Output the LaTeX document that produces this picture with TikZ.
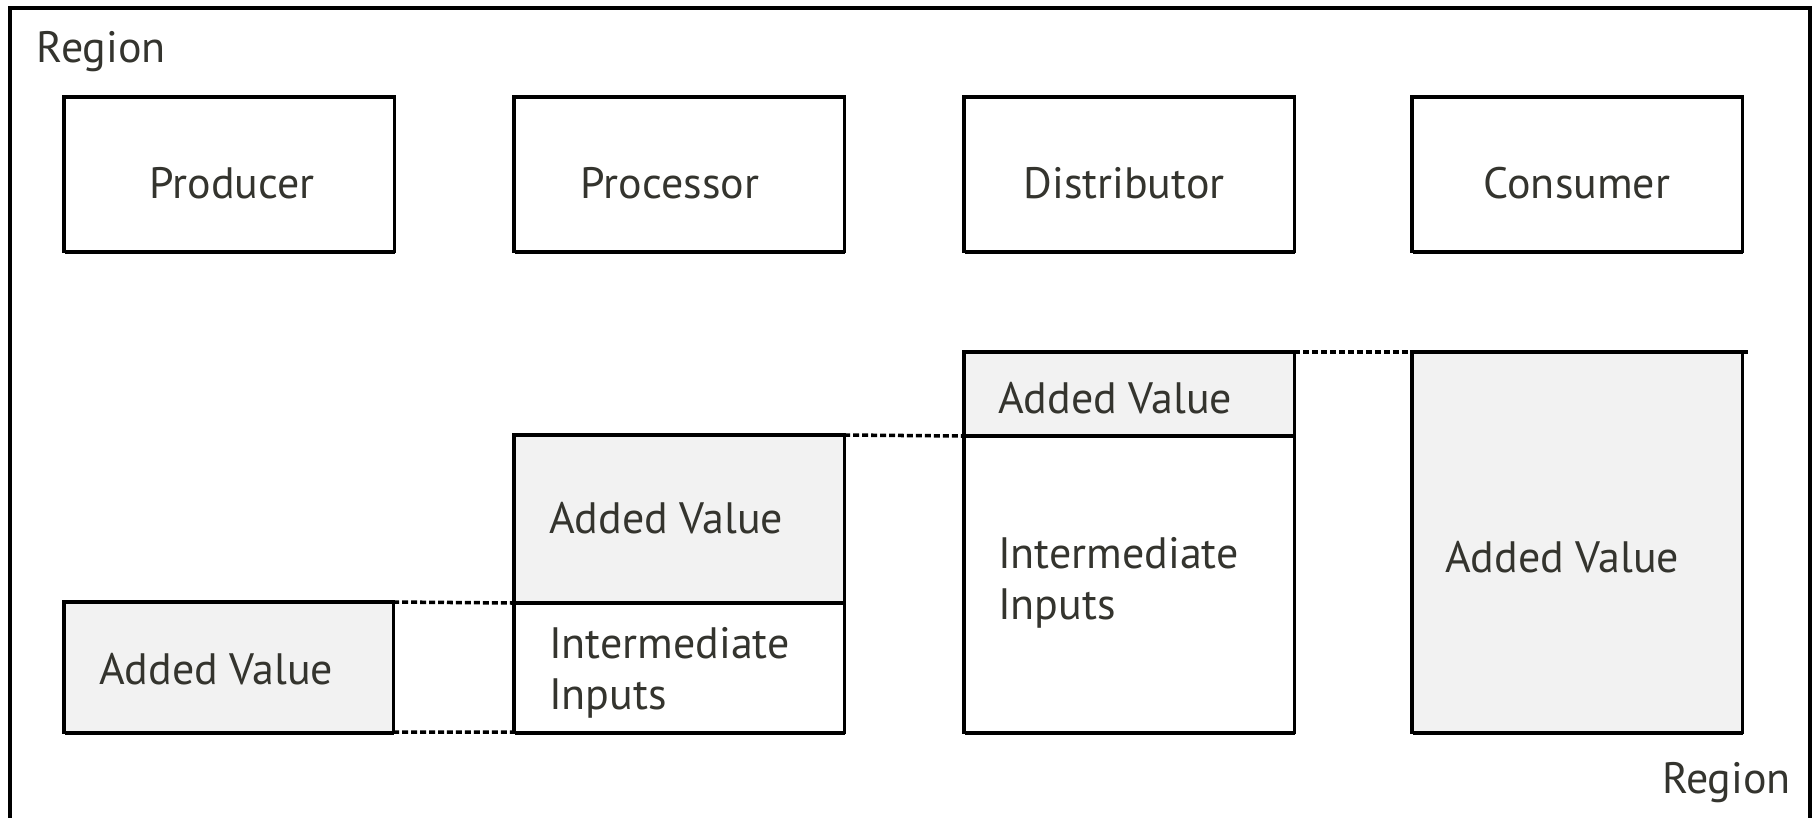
\documentclass[tikz,border=0pt]{standalone}
\usepackage{fontspec}
\setmainfont{PT Sans}
\usetikzlibrary{backgrounds,shadows,calc}
\definecolor{ink}{RGB}{52,52,46}
\definecolor{panel}{RGB}{242,242,242}
\begin{document}
\begin{tikzpicture}[x=0.01cm, y=-0.01cm,
  every node/.style={inner sep=0pt, outer sep=0pt},
  frame/.style={line width=1.1pt},
  box/.style={draw, line width=0.9pt, rectangle, anchor=north west, fill=white,
    drop shadow={shadow xshift=0.35pt, shadow yshift=-0.8pt, fill=black, opacity=1}},
  shaded/.style={box, fill=panel},
  txt/.style={text=ink, font=\fontsize{12.5}{14.5}\selectfont},
  link/.style={line width=1pt, dash pattern=on 1.7pt off 0.85pt}]
\useasboundingbox (0,0) rectangle (1814,817);

% open region frame
\draw[frame] (10,840) -- (10,8) -- (1810,8) -- (1810,840);
\node[txt, anchor=base west] (regiontop) at (37,62) {Region};
\node[txt, anchor=base west] (regionbot) at (1662,793) {Region};

% stage boxes
\node[box, minimum width=3.30cm, minimum height=1.54cm] (prod) at (64,97) {};
\node[box, minimum width=3.30cm, minimum height=1.54cm] (proc) at (514,97) {};
\node[box, minimum width=3.30cm, minimum height=1.54cm] (dist) at (964,97) {};
\node[box, minimum width=3.30cm, minimum height=1.54cm] (cons) at (1412,97) {};
\node[txt, anchor=base] (prodt) at (232,198) {Producer};
\node[txt, anchor=base] (proct) at (670,198) {Processor};
\node[txt, anchor=base] (distt) at (1124,198) {Distributor};
\node[txt, anchor=base] (const) at (1577,198) {Consumer};

% value bars
\node[shaded, minimum width=3.29cm, minimum height=1.30cm] (pav) at (64,602) {};
\node[shaded, minimum width=3.30cm, minimum height=1.68cm] (cav) at (514,435) {};
\node[box, minimum width=3.30cm, minimum height=1.29cm] (cii) at (514,603) {};
\node[shaded, minimum width=3.30cm, minimum height=0.84cm] (dav) at (964,352) {};
\node[box, minimum width=3.30cm, minimum height=2.96cm] (dii) at (964,436) {};
\node[shaded, minimum width=3.30cm, minimum height=3.80cm] (kav) at (1412,352) {};

\node[txt, anchor=base west] (pavt) at (99,684) {Added Value};
\node[txt, anchor=base west] (cavt) at (549,533) {Added Value};
\node[txt, anchor=base west, align=left] (ciit) at (549,709) {Intermediate\\Inputs};
\node[txt, anchor=base west] (davt) at (998,413) {Added Value};
\node[txt, anchor=base west, align=left] (diit) at (998,619) {Intermediate\\Inputs};
\node[txt, anchor=base west] (kavt) at (1445,572) {Added Value};

\coordinate (tail) at ($(kav.north east)+(6,0)$);

% dotted level guides
\begin{scope}[on background layer]
\draw[link] (pav.north east) -- (cii.north west);
\draw[link] (pav.south east) -- (cii.south west);
\draw[link] (cav.north east) -- (dii.north west);
\draw[link] (dav.north east) -- (tail);
\end{scope}
\end{tikzpicture}
\end{document}
